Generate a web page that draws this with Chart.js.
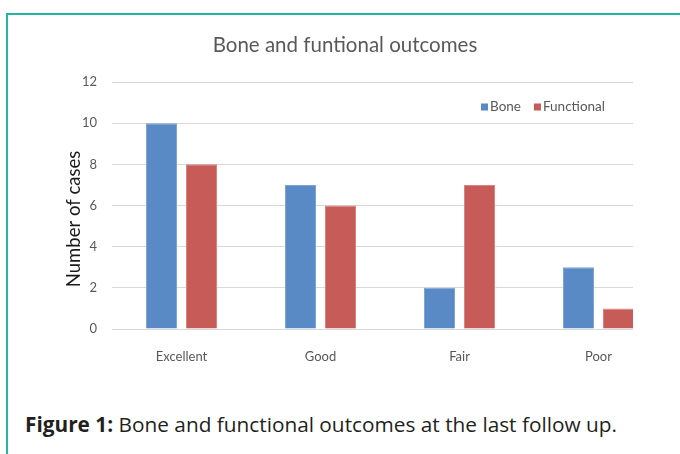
<!DOCTYPE html>
<html>
<head>
<meta charset="utf-8">
<script src="https://cdn.jsdelivr.net/npm/chart.js@4/dist/chart.umd.min.js"></script>
<style>
  html, body { margin: 0; padding: 0; background: #ffffff; width: 680px; height: 454px; overflow: hidden; }
  #frame { position: absolute; left: 6px; top: 13px; width: 800px; height: 600px;
           border-left: 2px solid #22b5a1; border-top: 2px solid #22b5a1; }
  #wrap { position: absolute; left: 0; top: 0; width: 633px; height: 380px; overflow: hidden; }
  #c { position: absolute; left: 0; top: 0; }
  #caption { position: absolute; left: 25px; top: 410px; font-family: "Open Sans", Lato, sans-serif;
             font-size: 20.8px; color: #231f20; white-space: nowrap; }
</style>
</head>
<body>
<div id="frame"></div>
<div id="wrap"><canvas id="c" width="668" height="369"></canvas></div>
<div id="caption"><b>Figure 1:</b> Bone and functional outcomes at the last follow up.</div>
<script>
const categories = ["Excellent", "Good", "Fair", "Poor"];
const seriesNames = ["Bone", "Functional"];
const boneValues = [10, 7, 2, 3];
const functionalValues = [8, 6, 7, 1];
const yTicks = [0, 2, 4, 6, 8, 10, 12];
const chartTitle = "Bone and funtional outcomes";
const yAxisTitle = "Number of cases";

const FONT = 'Lato, "Open Sans", sans-serif';
const GRAY = '#595959';

const legendPlugin = {
  id: 'innerLegend',
  afterDraw(chart) {
    const ctx = chart.ctx;
    ctx.save();
    ctx.font = '13.5px ' + FONT;
    ctx.textBaseline = 'middle';
    let x = 481;
    const y = 107;
    chart.data.datasets.forEach((ds) => {
      ctx.fillStyle = ds.backgroundColor;
      ctx.fillRect(x, y - 3.5, 7, 7);
      x += 9;
      ctx.fillStyle = GRAY;
      ctx.fillText(ds.label, x, y);
      x += ctx.measureText(ds.label).width + 13;
    });
    ctx.restore();
  }
};

const yTitlePlugin = {
  id: 'yTitle',
  afterDraw(chart) {
    const ctx = chart.ctx;
    ctx.save();
    ctx.translate(74, 219);
    ctx.rotate(-Math.PI / 2);
    ctx.font = '18.5px ' + FONT;
    ctx.fillStyle = '#1a1a1a';
    ctx.textAlign = 'center';
    ctx.textBaseline = 'middle';
    ctx.fillText(yAxisTitle, 0, 0);
    ctx.restore();
  }
};

new Chart(document.getElementById('c'), {
  type: 'bar',
  data: {
    labels: categories,
    datasets: [
      { label: seriesNames[0], data: boneValues, backgroundColor: '#5a8ac6', borderColor: '#7ea3d6', borderWidth: 1 },
      { label: seriesNames[1], data: functionalValues, backgroundColor: '#c75b57', borderColor: '#d98481', borderWidth: 1 }
    ]
  },
  options: {
    responsive: false,
    animation: false,
    devicePixelRatio: 1,
    layout: { padding: { left: 22, right: 0, top: 0, bottom: 0 } },
    datasets: { bar: { categoryPercentage: 0.576, barPercentage: 0.775 } },
    plugins: {
      legend: { display: false },
      tooltip: { enabled: false },
      title: {
        display: true, text: chartTitle, color: GRAY,
        font: { family: FONT, size: 20.5, weight: 'normal' },
        padding: { top: 33, bottom: 24.4 }
      }
    },
    scales: {
      x: {
        grid: { display: false },
        border: { display: false },
        ticks: { color: GRAY, font: { family: FONT, size: 13 }, padding: 12 },
        afterFit(s) { s.height = 40; }
      },
      y: {
        min: 0, max: 12,
        afterBuildTicks(s) { s.ticks = yTicks.map(v => ({ value: v })); },
        grid: { color: '#d9d9d9', drawTicks: false, lineWidth: 1 },
        border: { display: false },
        ticks: { color: GRAY, font: { family: FONT, size: 13 }, padding: 15 },
        title: { display: false, text: yAxisTitle },
        afterFit(s) { s.width = 90; }
      }
    }
  },
  plugins: [legendPlugin, yTitlePlugin]
});
</script>
</body>
</html>
